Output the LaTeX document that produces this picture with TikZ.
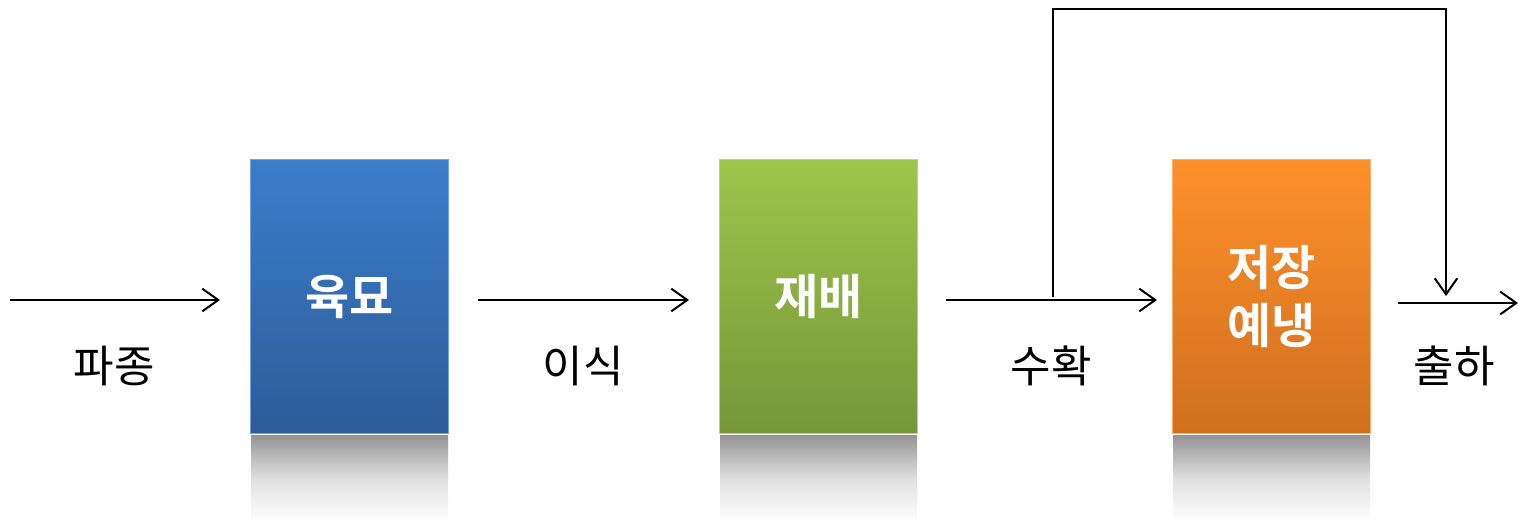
\documentclass[tikz,border=0pt]{standalone}
\usepackage{fontspec}
\setmainfont{Noto Sans CJK KR}[BoldFont={Noto Sans CJK KR Bold}]
\usetikzlibrary{arrows.meta}
\definecolor{blueT}{HTML}{3B7DCB}
\definecolor{blueB}{HTML}{2C5C99}
\definecolor{greenT}{HTML}{9EC54B}
\definecolor{greenB}{HTML}{759638}
\definecolor{orangeT}{HTML}{FE902B}
\definecolor{orangeB}{HTML}{D06F1E}
\tikzset{
  px/.style={x=0.75pt,y=-0.75pt},
  stage/.style={minimum width=148.5pt,minimum height=205pt,inner sep=0pt,draw=#1!70!white,line width=0.8pt,
     text=white,font=\fontsize{36}{43}\selectfont\bfseries,align=center},
  refl/.style={draw=none,top color=black!42,bottom color=white,middle color=black!12},
  lbl/.style={font=\fontsize{33}{38}\selectfont,text=black},
  arr/.style={line width=1.5pt,-{Straight Barb[length=12pt,width=17pt,line width=1.5pt]}},
  ln/.style={line width=1.5pt}
}
\begin{document}
\begin{tikzpicture}[px]
\useasboundingbox (0,0) rectangle (1519,523);
% reflections
\shade[refl] (251,435) rectangle (448,523);
\shade[refl] (720,435) rectangle (917,523);
\shade[refl] (1173,435) rectangle (1370,523);
% boxes
\node[stage=blueT,top color=blueT,bottom color=blueB] (b1) at (349.5,296.5) {육묘};
\node[stage=greenT,top color=greenT,bottom color=greenB] (b2) at (818.5,296.5) {재배};
\node[stage=orangeT,top color=orangeT,bottom color=orangeB] (b3) at (1271.5,296.5) {저장\\예냉};
% labels
\node[lbl] (l1) at (114,366) {파종};
\node[lbl] (l2) at (583,366) {이식};
\node[lbl] (l3) at (1051,366) {수확};
\node[lbl] (l4) at (1454,366) {출하};
% coordinates
\coordinate (s0) at (10,300);
\coordinate (e0) at (220,300);
\coordinate (s1) at (478,300);
\coordinate (e1) at (689,300);
\coordinate (s2) at (946,300);
\coordinate (e2) at (1157,300);
\coordinate (f0) at (1053,297);
\coordinate (f1) at (1053,9);
\coordinate (f2) at (1446,9);
\coordinate (f3) at (1446,296);
\coordinate (s3) at (1398,303);
\coordinate (e3) at (1518,303);
% connectors
\draw[arr] (s0) -- (e0);
\draw[arr] (s1) -- (e1);
\draw[arr] (s2) -- (e2);
\draw[arr] (f0) -- (f1) -- (f2) -- (f3);
\draw[arr] (s3) -- (e3);
\end{tikzpicture}
\end{document}
